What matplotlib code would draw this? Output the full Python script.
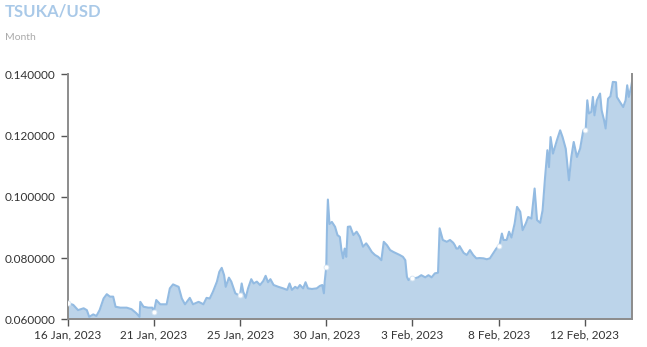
import numpy as np
import pandas as pd
import matplotlib
matplotlib.use("Agg")
import matplotlib.pyplot as plt

plt.rcParams['font.family'] = ['Lato', 'DejaVu Sans']

# TSUKA/USD price, hours after 16 Jan 2023 00:00
start = pd.Timestamp("2023-01-16 00:00")
hours = [0, 7, 13, 20, 24, 27, 32, 36, 40, 45, 49, 53, 57, 60, 66, 74, 80, 86, 90, 91,
         95, 101, 106, 108, 111, 116, 120, 124, 128, 132, 139, 143, 147, 153, 157, 164,
         168, 170, 174, 178, 182, 187, 190, 193, 196, 198, 202, 205, 210, 214, 216, 218,
         220, 223, 226, 230, 233, 237, 241, 245, 248, 251, 254, 258, 264, 270, 275, 278,
         281, 285, 288, 291, 295, 298, 301, 306, 312, 316, 319, 321, 322, 324, 325, 326,
         328, 331, 335, 338, 341, 343, 345, 347, 349, 351, 354, 358, 362, 366, 370, 374,
         377, 381, 385, 389, 393, 396, 400, 404, 408, 412, 416, 420, 423, 425, 427, 431,
         435, 439, 443, 448, 452, 456, 460, 464, 466, 470, 475, 479, 483, 485, 487, 489,
         491, 496, 500, 504, 508, 512, 516, 521, 525, 529, 533, 537, 541, 544, 546, 550,
         553, 556, 560, 563, 567, 570, 574, 577, 581, 585, 588, 592, 595, 598, 601, 603,
         605, 608, 613, 617, 620, 624, 628, 631, 634, 638, 642, 646, 649, 651, 653, 656,
         658, 660, 663, 667, 669, 672, 674, 677, 680, 683, 687, 688, 692, 696, 699, 701,
         703, 706, 707]
price = [0.0654, 0.0647, 0.0630, 0.0636, 0.0630, 0.0608, 0.0616, 0.0611, 0.0630, 0.0668,
         0.0682, 0.0674, 0.0674, 0.0641, 0.0638, 0.0638, 0.0633, 0.0620, 0.0608, 0.0657,
         0.0641, 0.0638, 0.0638, 0.0625, 0.0663, 0.0649, 0.0649, 0.0649, 0.0701, 0.0714,
         0.0706, 0.0668, 0.0649, 0.0670, 0.0649, 0.0657, 0.0652, 0.0649, 0.0670, 0.0668,
         0.0690, 0.0723, 0.0755, 0.0768, 0.0744, 0.0706, 0.0736, 0.0723, 0.0685, 0.0679,
         0.0680, 0.0717, 0.0690, 0.0670, 0.0701, 0.0731, 0.0717, 0.0723, 0.0712, 0.0725,
         0.0742, 0.0721, 0.0731, 0.0712, 0.0706, 0.0701, 0.0696, 0.0717, 0.0696, 0.0706,
         0.0701, 0.0712, 0.0701, 0.0721, 0.0701, 0.0699, 0.0701, 0.0709, 0.0712, 0.0685,
         0.0723, 0.0772, 0.0913, 0.0991, 0.0911, 0.0918, 0.0902, 0.0875, 0.0869, 0.0826,
         0.0799, 0.0831, 0.0804, 0.0902, 0.0903, 0.0875, 0.0886, 0.0869, 0.0837, 0.0848,
         0.0837, 0.0820, 0.0810, 0.0804, 0.0793, 0.0853, 0.0842, 0.0826, 0.0820, 0.0815,
         0.0810, 0.0804, 0.0793, 0.0739, 0.0728, 0.0737, 0.0734, 0.0737, 0.0744, 0.0737,
         0.0744, 0.0737, 0.0750, 0.0752, 0.0897, 0.0859, 0.0853, 0.0859, 0.0850, 0.0842,
         0.0831, 0.0831, 0.0839, 0.0817, 0.0810, 0.0826, 0.0810, 0.0799, 0.0800, 0.0799,
         0.0796, 0.0799, 0.0815, 0.0831, 0.0842, 0.0880, 0.0859, 0.0859, 0.0886, 0.0867,
         0.0913, 0.0967, 0.0951, 0.0891, 0.0913, 0.0934, 0.0929, 0.1027, 0.0924, 0.0915,
         0.0956, 0.1060, 0.1152, 0.1097, 0.1195, 0.1141, 0.1185, 0.1217, 0.1195, 0.1157,
         0.1054, 0.1130, 0.1179, 0.1130, 0.1157, 0.1217, 0.1219, 0.1315, 0.1272, 0.1277,
         0.1326, 0.1266, 0.1315, 0.1337, 0.1282, 0.1250, 0.1223, 0.1320, 0.1328, 0.1375,
         0.1374, 0.1326, 0.1309, 0.1293, 0.1315, 0.1364, 0.1326, 0.1359, 0.1375]

tick_hours = [0, 108, 216, 324, 432, 540, 648]
tick_labels = ["16 Jan, 2023", "21 Jan, 2023", "25 Jan, 2023", "30 Jan, 2023",
               "3 Feb, 2023", "8 Feb, 2023", "12 Feb, 2023"]
y_ticks = [0.06, 0.08, 0.10, 0.12, 0.14]

times = start + pd.to_timedelta(hours, unit="h")
tick_times = start + pd.to_timedelta(tick_hours, unit="h")

fig = plt.figure(figsize=(6.47, 3.47), dpi=100)
ax = fig.add_axes([0.1046, 0.0798, 0.8722, 0.7062])

line_c = "#93bbe2"
fill_c = "#bcd4ea"
ax.fill_between(times, price, 0.06, color=fill_c, lw=0)
ax.plot(times, price, color=line_c, lw=1.5)

# white dots where the series crosses each tick
dot_y = np.interp(tick_hours, hours, price)
ax.plot(tick_times, dot_y, 'o', ms=3.5, mfc="white", mec="#d8e6f3", mew=0.6, zorder=5)

ax.set_xlim(times[0], times[-1])
ax.set_ylim(0.06, 0.14)
ax.set_xticks(tick_times)
ax.set_xticklabels(tick_labels)
ax.set_yticks(y_ticks)
ax.set_yticklabels([f"{v:.6f}" for v in y_ticks])

for s in ["left", "bottom", "right"]:
    ax.spines[s].set_color("#8c8c8c")
    ax.spines[s].set_linewidth(1.4)
ax.spines["top"].set_visible(False)
ax.tick_params(colors="#555555", labelcolor="#333333", labelsize=8.5, length=5, width=1)
ax.tick_params(axis="x", pad=2)

fig.text(0.008, 0.966, "TSUKA/USD", color="#a9c9e8", fontsize=12, fontweight="bold",
         va="center", ha="left")
fig.text(0.008, 0.893, "Month", color="#aaaaaa", fontsize=7.5, va="center", ha="left")

fig.savefig("out.png", dpi=100)
